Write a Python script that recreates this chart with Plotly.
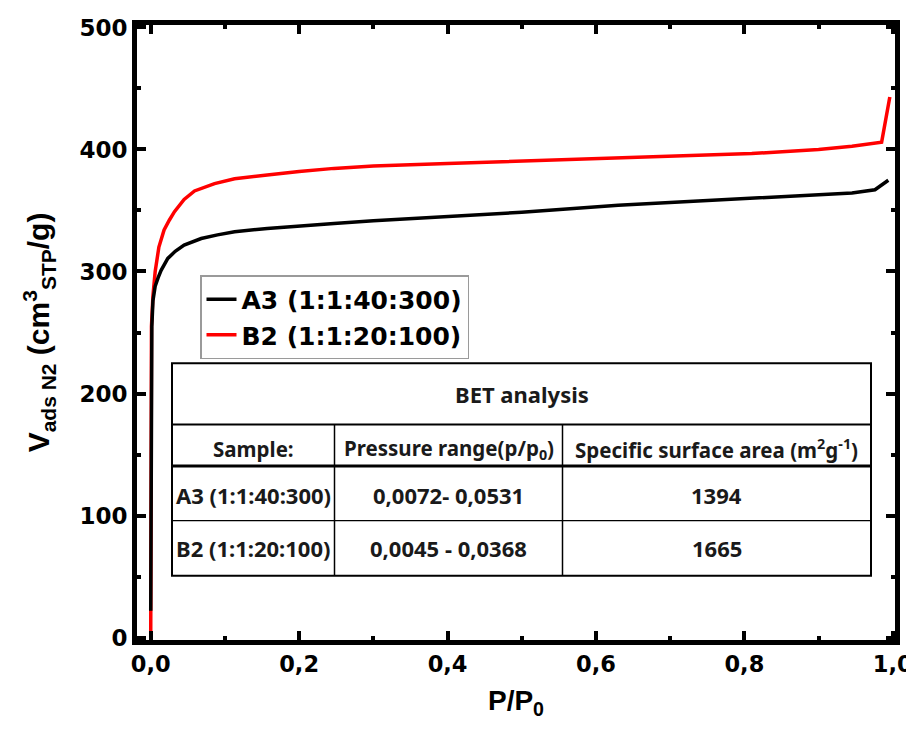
import plotly.graph_objects as go

# ---------------- data ----------------
series_names = ["A3 (1:1:40:300)", "B2 (1:1:20:100)"]
series_colors = ["#000000", "#ff0000"]

p_a3 = [0.0, 0.0004, 0.0008, 0.0015, 0.003, 0.006, 0.010, 0.014, 0.023, 0.033,
        0.045, 0.068, 0.09, 0.113, 0.157, 0.2, 0.247, 0.3, 0.4, 0.5, 0.63,
        0.72, 0.81, 0.9, 0.945, 0.976, 0.994]
v_a3 = [22, 120, 200, 255, 276, 288, 295, 301, 310.7, 316.5,
        321.6, 327, 330, 332.5, 335.3, 337.5, 339.4, 341.5, 345, 348.5, 354.3,
        357, 359.8, 362.5, 364.4, 367, 374.8]

p_b2 = [0.0, 0.0003, 0.0006, 0.001, 0.003, 0.006, 0.011, 0.018, 0.025, 0.032,
        0.045, 0.059, 0.086, 0.113, 0.157, 0.2, 0.247, 0.3, 0.4, 0.5, 0.63,
        0.72, 0.81, 0.9, 0.945, 0.985, 0.996]
v_b2 = [0, 100, 200, 255, 280, 300, 320, 334, 342, 349,
        359, 366, 372, 376, 379, 382, 384.5, 386.5, 388.5, 390.5, 392.5,
        394.4, 396.6, 400, 402.6, 406, 443]

x_ticks = [0.0, 0.2, 0.4, 0.6, 0.8, 1.0]
y_ticks = [0, 100, 200, 300, 400, 500]

table_title = "BET analysis"
table_header = ["Sample:", "Pressure range(p/p<sub>0</sub>)",
                "Specific surface area (m<sup>2</sup>g<sup>-1</sup>)"]
sample_names = ["A3 (1:1:40:300)", "B2 (1:1:20:100)"]
pressure_ranges = ["0,0072- 0,0531", "0,0045 - 0,0368"]
surface_areas = ["1394", "1665"]

# ---------------- layout geometry (pixels) ----------------
# the page body has an 8px margin, so the figure is placed at (8, 8) on screen;
# keep the figure small enough that the page does not need scrollbars
OFF = 8
W, H = 914 - OFF, 729 - 2 * OFF
ML, MT = 137 - OFF, 25 - OFF
MR = W - (895 - OFF)
MB = H - (640 - OFF)
PW, PH = W - ML - MR, H - MT - MB


def px(x):  # screen x pixel -> paper fraction
    return (x - OFF - ML) / PW


def py(y):  # screen y pixel -> paper fraction
    return (H - MB - (y - OFF)) / PH


fig = go.Figure()
fig.add_trace(go.Scatter(x=p_b2, y=v_b2, mode="lines", name=series_names[1],
                         line=dict(color=series_colors[1], width=3.5)))
fig.add_trace(go.Scatter(x=p_a3, y=v_a3, mode="lines", name=series_names[0],
                         line=dict(color=series_colors[0], width=3.5)))

axis_font = dict(family="DejaVu Sans", size=23, color="black", weight="bold")
xaxis_font = dict(family="DejaVu Sans", size=22.5, color="black", weight="bold")

fig.update_layout(
    width=W, height=H,
    margin=dict(l=ML, r=MR, t=MT, b=MB, autoexpand=False),
    paper_bgcolor="white", plot_bgcolor="white",
    separators=",.",
    showlegend=True,
    legend=dict(
        x=px(200), y=py(275), xanchor="left", yanchor="top",
        traceorder="reversed",
        bordercolor="#9a9a9a", borderwidth=1.5, bgcolor="white",
        font=dict(family="DejaVu Sans", size=25, color="black", weight="bold"),
    ),
    xaxis=dict(
        range=[-0.0185, 1.003], tickvals=x_ticks, tickformat=".1f",
        ticks="inside", ticklen=9, tickwidth=4, tickcolor="black",
        minor=dict(dtick=0.1, ticks="inside", ticklen=4, tickwidth=4, tickcolor="black"),
        showline=True, linecolor="black", linewidth=5, mirror="allticks",
        showgrid=False, zeroline=False, automargin=False,
        tickfont=xaxis_font,
        title=dict(text="P/P<sub>0</sub>", standoff=16,
                   font=dict(family="Liberation Sans, Arial", size=28, color="black", weight="bold")),
    ),
    yaxis=dict(
        range=[-2, 502], tickvals=y_ticks,
        ticks="inside", ticklen=9, tickwidth=4, tickcolor="black",
        minor=dict(dtick=50, ticks="inside", ticklen=4, tickwidth=4, tickcolor="black"),
        showline=True, linecolor="black", linewidth=5, mirror="allticks",
        showgrid=False, zeroline=False, automargin=False,
        tickfont=axis_font,
        title=dict(text="V<sub>ads N2</sub> (cm<sup>3</sup><sub>STP</sub>/g)", standoff=22,
                   font=dict(family="Liberation Sans, Arial", size=30, color="black", weight="bold")),
    ),
)

# ---------------- BET table (shapes + annotations) ----------------
tx = [172, 334.5, 562.5, 871]          # column borders (screen px)
ty = [363.3, 424.5, 466, 520.7, 575.7]  # row borders (screen px)

shapes = []
shapes.append(dict(type="rect", xref="paper", yref="paper",
                   x0=px(tx[0]), x1=px(tx[3]), y0=py(ty[4]), y1=py(ty[0]),
                   line=dict(color="black", width=2), fillcolor="white", layer="above"))
for yy, w in [(ty[1], 2), (ty[2], 3), (ty[3], 1.2)]:
    shapes.append(dict(type="line", xref="paper", yref="paper",
                       x0=px(tx[0]), x1=px(tx[3]), y0=py(yy), y1=py(yy),
                       line=dict(color="black", width=w), layer="above"))
for xx in [tx[1], tx[2]]:
    shapes.append(dict(type="line", xref="paper", yref="paper",
                       x0=px(xx), x1=px(xx), y0=py(ty[4]), y1=py(ty[1]),
                       line=dict(color="black", width=1.5), layer="above"))
fig.update_layout(shapes=shapes)

tfont = dict(family="Noto Sans, Open Sans", size=22, color="#1a1a1a", weight="bold")
hfont = dict(family="Noto Sans, Open Sans", size=20.5, color="#1a1a1a", weight="bold")
col_centers = [(tx[i] + tx[i + 1]) / 2 for i in range(3)]


def cell(text, x, y, font):
    return dict(text=text, x=px(x), y=py(y), xref="paper", yref="paper",
                xanchor="center", yanchor="middle", showarrow=False, font=font)


annotations = [cell(table_title, (tx[0] + tx[3]) / 2, 394, tfont)]
for i, h in enumerate(table_header):
    annotations.append(cell(h, col_centers[i], 449, hfont))
row_y = [495, 548]
for r in range(2):
    for c, val in enumerate([sample_names[r], pressure_ranges[r], surface_areas[r]]):
        annotations.append(cell(val, col_centers[c], row_y[r], tfont))
fig.update_layout(annotations=annotations)

fig.write_html("out.html")
